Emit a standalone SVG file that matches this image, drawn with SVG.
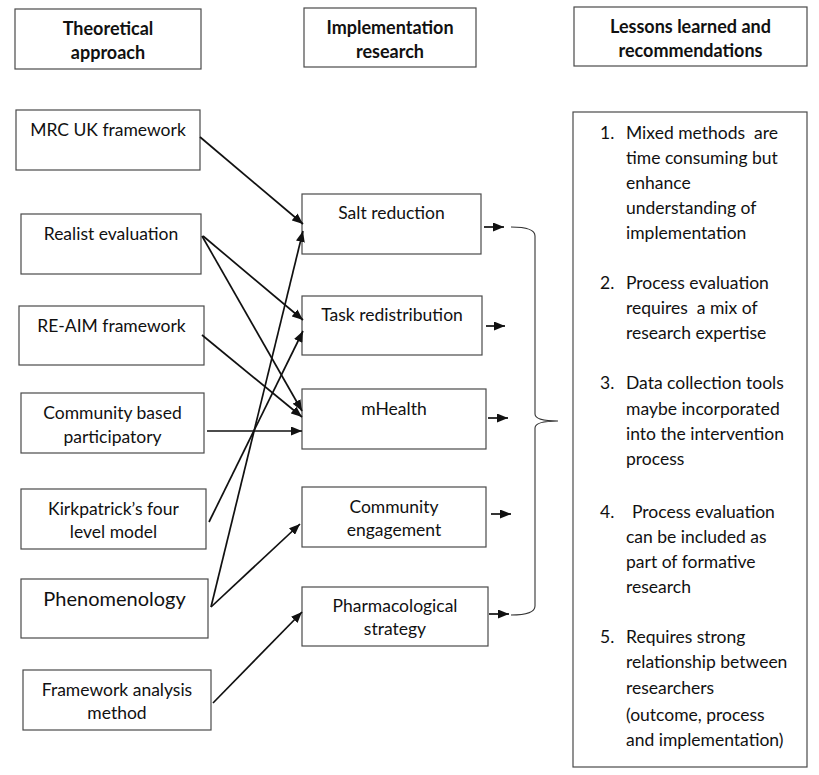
<svg xmlns="http://www.w3.org/2000/svg" width="819" height="775" viewBox="0 0 819 775">
<style>
.box{fill:#fff;stroke:#4a4a4a;stroke-width:1.2}
.t{font-family:Lato,"Open Sans",sans-serif;font-size:17.5px;fill:#111;text-anchor:middle}
.h{font-family:Lato,"Open Sans",sans-serif;font-size:18px;font-weight:bold;fill:#111;text-anchor:middle}
.r{font-family:Lato,"Open Sans",sans-serif;font-size:17.5px;fill:#111}
.c{stroke:#111;stroke-width:1.7;fill:none}
.brace{stroke:#333;stroke-width:1.1;fill:none}
</style>
<defs>
<marker id="ah" markerUnits="userSpaceOnUse" markerWidth="11" markerHeight="9" refX="11" refY="4.5" orient="auto">
<path d="M0,0 L11,4.5 L0,9 z" fill="#111"/>
</marker>
</defs>
<rect width="819" height="775" fill="#fff"/>

<g id="header-theoretical"><rect class="box" x="15" y="9" width="186" height="60"/><text class="h" x="108" y="35">Theoretical</text><text class="h" x="108" y="59">approach</text></g>
<g id="header-implementation"><rect class="box" x="304" y="8" width="172" height="59"/><text class="h" x="390" y="34">Implementation</text><text class="h" x="390" y="58">research</text></g>
<g id="header-lessons"><rect class="box" x="574" y="7" width="233" height="59"/><text class="h" x="690.5" y="33">Lessons learned and</text><text class="h" x="690.5" y="57">recommendations</text></g>

<g id="mrc"><rect class="box" x="16" y="110" width="184" height="60"/><text class="t" x="108" y="136">MRC UK framework</text></g>
<g id="realist"><rect class="box" x="21" y="214" width="180" height="60"/><text class="t" x="111" y="240">Realist evaluation</text></g>
<g id="reaim"><rect class="box" x="19" y="306" width="185" height="59"/><text class="t" x="111.5" y="332">RE-AIM framework</text></g>
<g id="cbp"><rect class="box" x="21" y="393" width="183" height="60"/><text class="t" x="112.5" y="419">Community based</text><text class="t" x="112.5" y="443">participatory</text></g>
<g id="kirkpatrick"><rect class="box" x="21" y="489" width="185" height="60"/><text class="t" x="113.5" y="515">Kirkpatrick’s four</text><text class="t" x="113.5" y="538">level model</text></g>
<g id="phenomenology"><rect class="box" x="21" y="579" width="187" height="59"/><text class="t" x="114.5" y="606" style="font-size:20px">Phenomenology</text></g>
<g id="framework"><rect class="box" x="23" y="670" width="188" height="60"/><text class="t" x="117" y="696">Framework analysis</text><text class="t" x="117" y="719">method</text></g>

<g id="salt"><rect class="box" x="302" y="194" width="179" height="60"/><text class="t" x="391.5" y="219">Salt reduction</text></g>
<g id="task"><rect class="box" x="302" y="296" width="180" height="59"/><text class="t" x="392" y="321">Task redistribution</text></g>
<g id="mhealth"><rect class="box" x="302" y="389" width="184" height="60"/><text class="t" x="394" y="415">mHealth</text></g>
<g id="community"><rect class="box" x="302" y="487" width="184" height="60"/><text class="t" x="394" y="513">Community</text><text class="t" x="394" y="536">engagement</text></g>
<g id="pharma"><rect class="box" x="302" y="587" width="186" height="59"/><text class="t" x="395" y="612">Pharmacological</text><text class="t" x="395" y="635">strategy</text></g>

<g id="lessons">
<rect class="box" x="573" y="112" width="234" height="655"/>
<text class="r" x="600" y="139">1.</text>
<text class="r" x="626" y="139" xml:space="preserve">Mixed methods  are</text>
<text class="r" x="626" y="164">time consuming but</text>
<text class="r" x="626" y="189">enhance</text>
<text class="r" x="626" y="214">understanding of</text>
<text class="r" x="626" y="239">implementation</text>
<text class="r" x="600" y="289">2.</text>
<text class="r" x="626" y="289">Process evaluation</text>
<text class="r" x="626" y="314" xml:space="preserve">requires  a mix of</text>
<text class="r" x="626" y="339">research expertise</text>
<text class="r" x="600" y="389">3.</text>
<text class="r" x="626" y="389">Data collection tools</text>
<text class="r" x="626" y="415">maybe incorporated</text>
<text class="r" x="626" y="440">into the intervention</text>
<text class="r" x="626" y="465">process</text>
<text class="r" x="600" y="518">4.</text>
<text class="r" x="632" y="518">Process evaluation</text>
<text class="r" x="626" y="543">can be included as</text>
<text class="r" x="626" y="568">part of formative</text>
<text class="r" x="626" y="593">research</text>
<text class="r" x="600" y="643">5.</text>
<text class="r" x="626" y="643">Requires strong</text>
<text class="r" x="626" y="668">relationship between</text>
<text class="r" x="626" y="694">researchers</text>
<text class="r" x="626" y="721">(outcome, process</text>
<text class="r" x="626" y="746">and implementation)</text>
</g>

<g id="connectors">
<line class="c" x1="200" y1="137" x2="303" y2="224" marker-end="url(#ah)"/>
<line class="c" x1="203" y1="236" x2="303" y2="320" marker-end="url(#ah)"/>
<line class="c" x1="202" y1="236" x2="302" y2="411" marker-end="url(#ah)"/>
<line class="c" x1="202" y1="335" x2="302" y2="417" marker-end="url(#ah)"/>
<line class="c" x1="207" y1="431" x2="302" y2="431" marker-end="url(#ah)"/>
<line class="c" x1="209" y1="522" x2="303" y2="331" marker-end="url(#ah)"/>
<line class="c" x1="211" y1="607" x2="303" y2="231" marker-end="url(#ah)"/>
<line class="c" x1="211" y1="607" x2="300" y2="524" marker-end="url(#ah)"/>
<line class="c" x1="213" y1="703" x2="302" y2="612" marker-end="url(#ah)"/>
<line class="c" x1="484" y1="227" x2="504" y2="227" marker-end="url(#ah)"/>
<line class="c" x1="486" y1="326" x2="505" y2="326" marker-end="url(#ah)"/>
<line class="c" x1="488" y1="418" x2="508" y2="418" marker-end="url(#ah)"/>
<line class="c" x1="491" y1="514" x2="511" y2="514" marker-end="url(#ah)"/>
<line class="c" x1="489" y1="614" x2="509" y2="614" marker-end="url(#ah)"/>
<path class="brace" d="M511,227 Q535,227 535,236 L535,414 Q535,421 558,421 Q535,421 535,428 L535,606 Q535,615 511,615"/>
</g>
</svg>
